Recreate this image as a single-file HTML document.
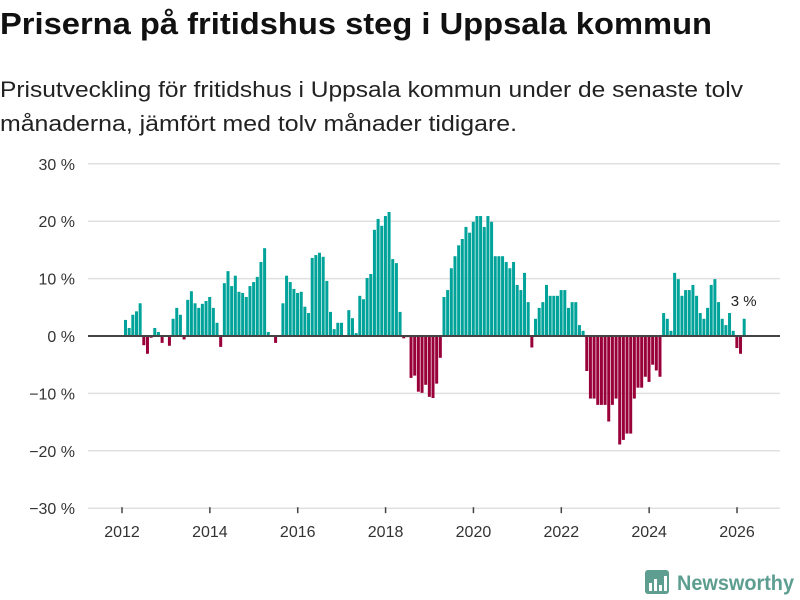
<!DOCTYPE html>
<html><head><meta charset="utf-8">
<style>
html,body{margin:0;padding:0;background:#fff;}
svg{display:block;font-family:"Liberation Sans","DejaVu Sans",sans-serif;}
</style></head>
<body>
<svg id="chart" width="800" height="600" viewBox="0 0 800 600">
  <text x="0" y="34" font-size="31" font-weight="bold" fill="#111" textLength="712" lengthAdjust="spacingAndGlyphs">Priserna på fritidshus steg i Uppsala kommun</text>
  <text x="0" y="97" font-size="22" fill="#222" textLength="743" lengthAdjust="spacingAndGlyphs">Prisutveckling för fritidshus i Uppsala kommun under de senaste tolv</text>
  <text x="0" y="131" font-size="22" fill="#222" textLength="517" lengthAdjust="spacingAndGlyphs">månaderna, jämfört med tolv månader tidigare.</text>
  <g id="grid"></g>
  <g id="yticks"></g>
  <g id="bars"></g>
  <line id="zero" stroke="#444" stroke-width="2"></line>
  <g id="xticks"></g>
  <text id="lastlabel" font-size="15" fill="#222" text-anchor="middle"></text>
  <g>
    <rect x="645" y="570" width="24" height="24" rx="3" fill="#5d9e90"/>
    <rect x="649" y="583" width="3" height="8" fill="#fff"/>
    <rect x="654" y="579" width="3" height="12" fill="#fff"/>
    <rect x="659" y="585" width="3" height="6" fill="#fff"/>
    <rect x="664" y="576" width="3" height="15" fill="#fff"/>
    <text x="677" y="590" font-size="21" font-weight="bold" fill="#5d9e90" textLength="117" lengthAdjust="spacingAndGlyphs">Newsworthy</text>
  </g>
</svg>
<script>
const startYear = 2012;
const yTicks = [30, 20, 10, 0, -10, -20, -30];
const yTickLabels = ["30 %", "20 %", "10 %", "0 %", "\u221210 %", "\u221220 %", "\u221230 %"];
const xTickYears = [2012, 2014, 2016, 2018, 2020, 2022, 2024, 2026];
const values = [
 2.8,1.4,3.7,4.3,5.7,-1.6,-3.1,-0.3,1.4,0.7,-1.2,null,-1.7,3.0,4.9,3.7,-0.6,6.3,7.8,5.7,4.9,5.6,6.1,6.8,4.9,2.3,-1.9,9.2,11.3,8.7,10.5,7.7,7.5,6.8,8.7,9.4,10.3,12.9,15.3,0.7,null,-1.2,null,5.7,10.5,
 9.4,8.2,7.5,7.7,5.1,4.0,13.6,14.1,14.5,13.8,9.6,4.2,1.2,2.3,2.3,null,4.5,3.1,0.5,7.0,6.4,10.1,10.8,18.5,20.4,19.2,20.9,21.6,13.4,12.7,4.2,-0.4,-0.2,-7.3,-6.9,-9.7,-9.9,-8.5,-10.6,-10.8,-8.3,-3.8,6.8,8.0,
 11.8,13.9,15.8,16.9,19.0,18.0,19.9,20.9,20.9,19.0,20.9,19.9,13.9,13.9,13.9,12.9,11.8,12.9,8.9,8.0,11.0,5.9,-2.0,3.0,4.9,5.9,8.9,7.0,7.0,7.0,8.0,8.0,4.9,5.9,5.9,1.9,0.9,
 -6.1,-10.9,-10.9,-12.0,-12.0,-12.0,-14.9,-12.0,-10.9,-18.9,-18.1,-17.0,-17.0,-10.9,-9.0,-9.0,-7.1,-8.0,-5.0,-6.0,-7.1,4.0,3.0,0.9,11.0,9.9,7.0,8.0,8.0,8.9,7.0,4.0,3.0,4.9,8.9,9.9,5.9,3.0,1.9,4.0,0.9,-2.1,-3.1,3.0
];
const lastLabel = "3 %";

const NS = "http://www.w3.org/2000/svg";
function y(v){ return 336 - v * 5.74; }
function x(monthIndex){ return 122 + monthIndex * (43.93/12); }
function mk(tag, attrs){ const e=document.createElementNS(NS,tag); for(const k in attrs) e.setAttribute(k,attrs[k]); return e; }

const grid=document.getElementById('grid'), yt=document.getElementById('yticks');
yTicks.forEach((t,i)=>{
  if(t!==0){
    const l=mk('line',{x1:88,x2:780,y1:y(t),y2:y(t),stroke:'#e0e0e0','stroke-width':1.5});
    
    
    grid.appendChild(l);
  }
  const tx=mk('text',{x:75,y:y(t)+6,'font-size':16,fill:'#333','text-anchor':'end'});
  tx.textContent=yTickLabels[i];
  
  
  yt.appendChild(tx);
});
const z=document.getElementById('zero');
z.setAttribute('x1',88); z.setAttribute('x2',780); z.setAttribute('y1',y(0)); z.setAttribute('y2',y(0));

const bars=document.getElementById('bars');
values.forEach((v,i)=>{
  if(v===null) return;
  const top=Math.min(y(v),y(0)), h=Math.abs(y(v)-y(0));
  const r=mk('rect',{x:x(i)+2,y:top,width:3,height:h,fill:v>=0?'#00a39a':'#99003a'});
  
  
  bars.appendChild(r);
});

const xt=document.getElementById('xticks');
xTickYears.forEach(yr=>{
  const px=x((yr-startYear)*12);
  const tk=mk('line',{x1:px,x2:px,y1:y(-30)-1,y2:y(-30)+5,stroke:'#444','stroke-width':1.5});
  
  
  xt.appendChild(tk);
  const tx=mk('text',{x:px,y:537,'font-size':16,fill:'#333','text-anchor':'middle'});
  tx.textContent=String(yr);
  
  
  xt.appendChild(tx);
});

const li=values.length-1;
const ll=document.getElementById('lastlabel');
ll.setAttribute('x',x(li)+3);
ll.setAttribute('y',y(values[li])-13);
ll.textContent=lastLabel;
</script>
</body></html>
